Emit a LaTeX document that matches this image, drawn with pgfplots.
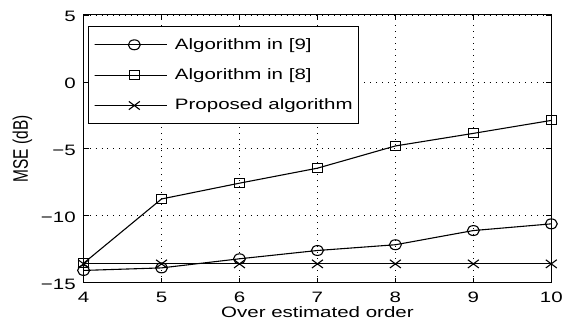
\documentclass[border=0pt]{standalone}
\usepackage{fontspec}
\setmainfont{Liberation Sans}[FakeStretch=1.36]
\newfontfamily\plainfont{Liberation Sans}
\usepackage{pgfplots}
\pgfplotsset{compat=1.18}
\begin{document}
\begin{tikzpicture}
\path (-84bp,-42bp) rectangle (482bp,284bp);
\begin{axis}[
  at={(0bp,0bp)}, anchor=south west,
  scale only axis, width=470bp, height=269bp,
  xmin=4, xmax=10, ymin=-15, ymax=5,
  xtick={4,5,6,7,8,9,10},
  xticklabels={4,5,6,7,8,9,10},
  ytick={-15,-10,-5,0,5},
  yticklabels={−15,−10,−5,0,5},
  grid=major,
  major grid style={black, line width=0.6bp, dash pattern=on 0.8bp off 5.2bp},
  tick align=inside, major tick length=5bp,
  axis line style={line width=1bp},
  tick style={black, line width=0.7bp},
  font=\fontsize{15.2}{18}\selectfont,
  every x tick label/.style={anchor=base, yshift=-20.3bp},
  every y tick label/.style={anchor=east, inner sep=0bp, xshift=-7.7bp, yshift=-1.5bp},
  xlabel={Over estimated order},
  ylabel={\plainfont\fontsize{15.6}{18}\selectfont MSE (dB)},
  every axis x label/.style={at={(axis description cs:0.5,0)}, anchor=base, yshift=-35.3bp},
  every axis y label/.style={at={(axis description cs:-0.1309,0.5)}, anchor=center, xscale=1.36, rotate=90},
  legend cell align=left,
  legend style={at={(rel axis cs:0.009,0.959)}, anchor=north west, draw=black, line width=1bp,
    font=\fontsize{15.2}{18}\selectfont,
    inner xsep=5.7bp, inner ysep=10bp, row sep=13.5bp, column sep=7bp,
    nodes={inner sep=0bp, text height=13bp, text depth=4bp},
    row 3/.style={nodes={text depth=14bp}}},
  legend image code/.code={\path (-6.7bp,0bp) rectangle (0bp,0bp);
    \draw[mark repeat=2, mark phase=2, #1] plot coordinates {(0bp,0bp) (33.3bp,0bp) (66.6bp,0bp)};},
]
\addplot[black, line width=1.1bp, mark=o, mark size=6bp, mark options={yscale=0.83, solid}] coordinates {
(4,-14.09) (5,-13.9) (6,-13.22) (7,-12.6) (8,-12.17) (9,-11.11) (10,-10.61)};
\addlegendentry{Algorithm in [9]}
\addplot[black, line width=1.1bp, mark=square, mark size=5bp, mark options={yscale=0.9, solid}] coordinates {
(4,-13.55) (5,-8.75) (6,-7.57) (7,-6.45) (8,-4.79) (9,-3.85) (10,-2.88)};
\addlegendentry{Algorithm in [8]}
\addplot[black, line width=1.1bp, mark=x, mark size=7.8bp, mark options={yscale=0.75, solid}] coordinates {
(4,-13.6) (5,-13.6) (6,-13.6) (7,-13.6) (8,-13.6) (9,-13.6) (10,-13.6)};
\addlegendentry{Proposed algorithm}
\end{axis}
\end{tikzpicture}
\end{document}
